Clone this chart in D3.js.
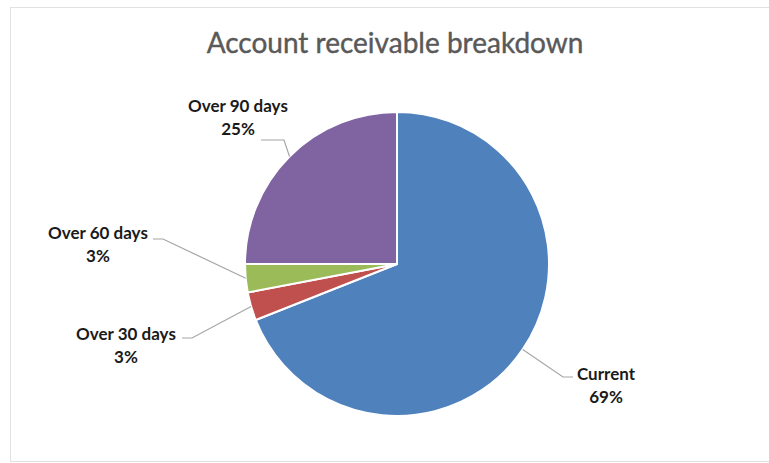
<!DOCTYPE html>
<html>
<head>
<meta charset="utf-8">
<script src="https://cdn.jsdelivr.net/npm/d3@7"></script>
<style>
  body { margin: 0; background: #fff; }
  svg text { font-family: Lato, "Open Sans", sans-serif; }
</style>
</head>
<body>
<script>
"use strict";
// chart data
var categories = ["Current", "Over 30 days", "Over 60 days", "Over 90 days"];
var values = [69, 3, 3, 25];
var colors = ["#4f81bd", "#c0504d", "#9bbb59", "#8064a2"];
var title = "Account receivable breakdown";

// label layout (text centre, first baseline, leader elbow / end)
var labelX = [606, 126, 98, 238];
var labelY = [380, 340, 239, 112];
var leaderElbow = [[563, 377], [192, 338], [163, 239], [284, 140]];
var leaderEnd = [[573, 377], [182, 338], [153, 239], [261, 140]];

var width = 769, height = 463;
var cx = 397, cy = 264, radius = 152;

var svg = d3.select("body").append("svg")
  .attr("width", width)
  .attr("height", height);

// chart area frame
svg.append("rect")
  .attr("x", 10.5).attr("y", 7.5)
  .attr("width", 770).attr("height", 454)
  .attr("fill", "#fff")
  .attr("stroke", "#e2e2e2");

svg.append("text")
  .attr("x", 395).attr("y", 53)
  .attr("text-anchor", "middle")
  .attr("fill", "#595959")
  .attr("stroke", "#595959")
  .attr("stroke-width", 0.4)
  .style("font-size", "28px")
  .text(title);

var total = d3.sum(values);
var pct = d3.format(".0%");
var pie = d3.pie().sort(null).value(function(d) { return d; });
var arcs = pie(values);
var arc = d3.arc().innerRadius(0).outerRadius(radius);
var edge = d3.arc().innerRadius(radius).outerRadius(radius);

var g = svg.append("g").attr("transform", "translate(" + cx + "," + cy + ")");

g.selectAll("path.slice").data(arcs).enter()
  .append("path")
  .attr("class", "slice")
  .attr("d", arc)
  .attr("fill", function(d, i) { return colors[i]; })
  .attr("stroke", "#fff")
  .attr("stroke-width", 2)
  .attr("stroke-linejoin", "round");

// leader lines
svg.selectAll("polyline.leader").data(arcs).enter()
  .append("polyline")
  .attr("class", "leader")
  .attr("fill", "none")
  .attr("stroke", "#a6a6a6")
  .attr("stroke-width", 1.2)
  .attr("points", function(d, i) {
    var p = edge.centroid(d);
    return [[cx + p[0], cy + p[1]], leaderElbow[i], leaderEnd[i]].join(" ");
  });

// data labels
var labels = svg.selectAll("text.label").data(arcs).enter()
  .append("text")
  .attr("class", "label")
  .attr("text-anchor", "middle")
  .attr("fill", "#1a1a1a")
  .style("font-size", "17px")
  .style("font-weight", "bold");

labels.append("tspan")
  .attr("x", function(d, i) { return labelX[i]; })
  .attr("y", function(d, i) { return labelY[i]; })
  .text(function(d, i) { return categories[i]; });

labels.append("tspan")
  .attr("x", function(d, i) { return labelX[i]; })
  .attr("dy", 23)
  .text(function(d) { return pct(d.data / total); });
</script>
</body>
</html>
